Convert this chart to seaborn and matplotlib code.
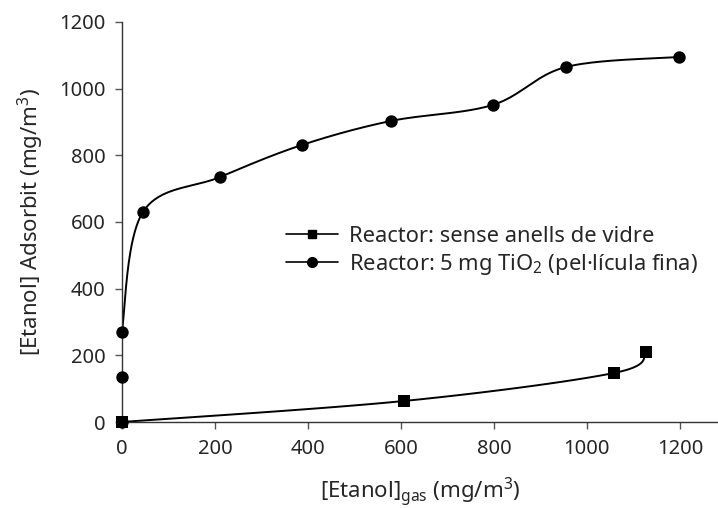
import numpy as np
import pandas as pd
import matplotlib
matplotlib.use("Agg")
import matplotlib.pyplot as plt
from matplotlib.lines import Line2D
import seaborn as sns

# Adsorption data: gas-phase ethanol vs adsorbed ethanol (mg/m3)
glass_x = [0, 606, 1058, 1127]
glass_y = [0, 63, 147, 210]
tio2_x = [0, 0, 0, 45, 211, 387, 578, 797, 955, 1198]
tio2_y = [0, 135, 270, 630, 735, 831, 903, 951, 1065, 1095]

series_labels = ["Reactor: sense anells de vidre",
                 "Reactor: 5 mg TiO$_2$ (pel·lícula fina)"]
x_ticks = [0, 200, 400, 600, 800, 1000, 1200]
y_ticks = [0, 200, 400, 600, 800, 1000, 1200]

sns.set_theme(style="ticks")
plt.rcParams["font.family"] = ["Noto Sans", "DejaVu Sans"]
plt.rcParams["mathtext.fontset"] = "custom"
plt.rcParams["mathtext.rm"] = "Noto Sans"
plt.rcParams["mathtext.it"] = "Noto Sans"

fig = plt.figure(figsize=(7.18, 5.08), dpi=100)
ax = fig.add_axes([122 / 718, 1 - 422 / 508, 596 / 718, 400 / 508])
ax.set_xlim(0, 1282)
ax.set_ylim(0, 1200)


def smooth_path(xs, ys, steps=40):
    """Bezier smoothing through the points, computed in screen space."""
    pts = ax.transData.transform(np.column_stack([xs, ys]))
    n = len(pts)
    out = [pts[0]]
    for i in range(n - 1):
        p0 = pts[max(i - 1, 0)]
        p1 = pts[i]
        p2 = pts[i + 1]
        p3 = pts[min(i + 2, n - 1)]
        b1 = p1 + (p2 - p0) / 6.0
        b2 = p2 - (p3 - p1) / 6.0
        t = np.linspace(0, 1, steps)[1:, None]
        seg = ((1 - t) ** 3) * p1 + 3 * ((1 - t) ** 2) * t * b1 \
            + 3 * (1 - t) * t ** 2 * b2 + t ** 3 * p2
        out.extend(seg)
    data = ax.transData.inverted().transform(np.array(out))
    return pd.DataFrame({"x": data[:, 0], "y": data[:, 1],
                         "i": np.arange(len(data))})


for xs, ys in [(glass_x, glass_y), (tio2_x, tio2_y)]:
    curve = smooth_path(xs, ys)
    sns.lineplot(data=curve, x="x", y="y", sort=False, estimator=None,
                 color="black", linewidth=1.4, ax=ax, legend=False)

sns.scatterplot(x=tio2_x, y=tio2_y, marker="o", s=80, color="black",
                edgecolor="black", linewidth=0, ax=ax, zorder=3, clip_on=False)
sns.scatterplot(x=glass_x, y=glass_y, marker="s", s=66, color="black",
                edgecolor="black", linewidth=0, ax=ax, zorder=4, clip_on=False)

ax.set_xticks(x_ticks)
ax.set_yticks(y_ticks)
ax.tick_params(axis="both", labelsize=14.5, length=5, width=1,
               color="#555555", direction="out", pad=7)
for side in ["top", "right"]:
    ax.spines[side].set_visible(False)
for side in ["left", "bottom"]:
    ax.spines[side].set_color("#333333")
    ax.spines[side].set_linewidth(1.0)

ax.set_xlabel("[Etanol]$_{\\mathrm{gas}}$ (mg/m$^3$)", fontsize=16, labelpad=12)
ax.set_ylabel("[Etanol] Adsorbit (mg/m$^3$)", fontsize=16, labelpad=9)

handles = [
    Line2D([], [], color="black", linewidth=1.2, marker="s", markersize=6),
    Line2D([], [], color="black", linewidth=1.2, marker="o", markersize=7),
]
ax.legend(handles, series_labels, loc="center left",
          bbox_to_anchor=(0.26, 0.427), frameon=False, fontsize=15.8,
          handlelength=2.4, handletextpad=0.5, labelspacing=0.22,
          borderaxespad=0)

fig.savefig("out.png", dpi=100)
